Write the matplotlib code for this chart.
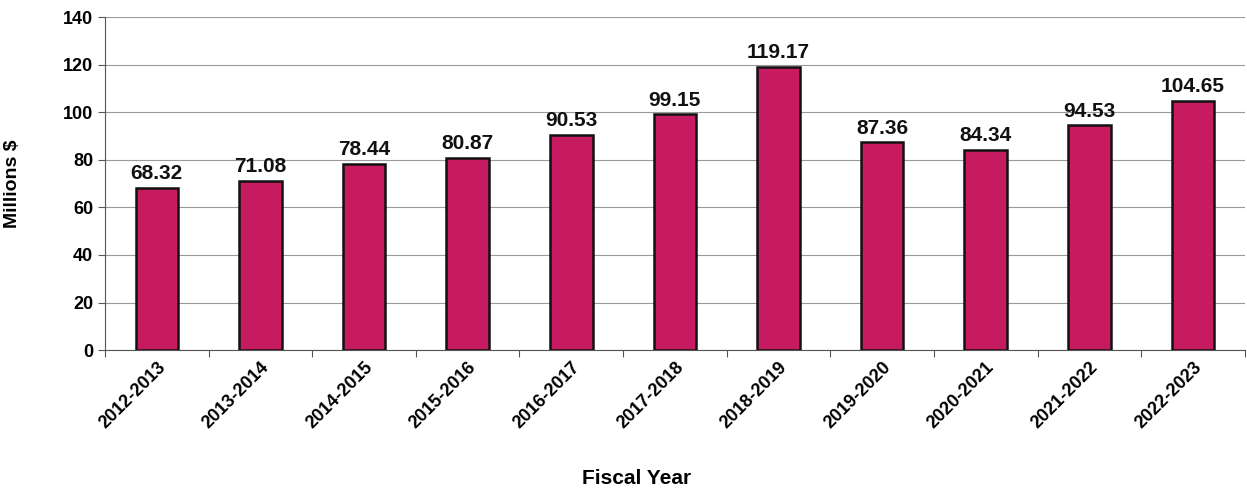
import matplotlib
matplotlib.use("Agg")
import matplotlib.pyplot as plt
import numpy as np

years = ["2012-2013", "2013-2014", "2014-2015", "2015-2016", "2016-2017",
         "2017-2018", "2018-2019", "2019-2020", "2020-2021", "2021-2022",
         "2022-2023"]
spending = [68.32, 71.08, 78.44, 80.87, 90.53, 99.15, 119.17, 87.36, 84.34,
            94.53, 104.65]

plt.rcParams["font.family"] = ["Liberation Sans", "DejaVu Sans"]
plt.rcParams["font.weight"] = "bold"

fig = plt.figure(figsize=(12.47, 4.91), dpi=100)
ax = fig.add_axes([0.0842, 0.287, 0.914, 0.678])

x = np.arange(len(years))
ax.bar(x, spending, width=0.41, color="#c61b60", edgecolor="#111111",
       linewidth=1.8, zorder=3)

for xi, v in zip(x, spending):
    ax.text(xi, v + 2.0, f"{v:.2f}", ha="center", va="bottom",
            fontsize=15, fontweight="bold", color="#111111")

ax.set_xlim(-0.5, len(years) - 0.5)
ax.set_ylim(0, 140)
ax.set_yticks(range(0, 141, 20))
ax.yaxis.grid(True, color="#9a9a9a", linewidth=0.8, zorder=0)

# ticks sit between the categories
ax.set_xticks(np.arange(-0.5, len(years) + 0.5, 1.0), minor=False)
ax.set_xticklabels([])
ax.set_xticks(x, minor=True)
ax.set_xticklabels(years, minor=True, rotation=45, ha="right",
                   rotation_mode="anchor", fontsize=13, fontweight="bold")
ax.tick_params(axis="x", which="minor", length=0, pad=6)
ax.tick_params(axis="x", which="major", length=5, color="#555555")
ax.tick_params(axis="y", length=5, color="#555555", labelsize=13)
for lab in ax.get_yticklabels():
    lab.set_fontweight("bold")

for side in ["top", "right"]:
    ax.spines[side].set_visible(False)
ax.spines["left"].set_color("#555555")
ax.spines["bottom"].set_color("#555555")

ax.set_ylabel("Millions $", fontsize=14, fontweight="bold")
ax.yaxis.set_label_coords(-0.074, 0.5)
fig.text(637 / 1247, 1 - 479 / 491, "Fiscal Year", ha="center", va="center",
         fontsize=15, fontweight="bold")

fig.savefig("out.png", dpi=100, facecolor="white")
